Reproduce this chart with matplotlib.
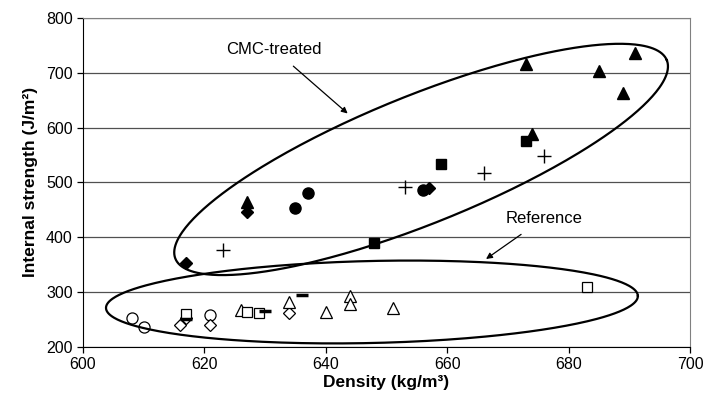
import numpy as np
import matplotlib
matplotlib.use("Agg")
import matplotlib.pyplot as plt

plt.rcParams['font.family'] = ['Liberation Sans', 'DejaVu Sans']

# CMC-treated boards (filled markers)
cmc_diamond_x = [617, 627, 657]
cmc_diamond_y = [353, 446, 489]
cmc_triangle_x = [627, 673, 674, 685, 689, 691]
cmc_triangle_y = [465, 716, 589, 704, 663, 736]
cmc_circle_x = [635, 637, 656]
cmc_circle_y = [454, 480, 486]
cmc_square_x = [648, 659, 673]
cmc_square_y = [390, 534, 576]
cmc_plus_x = [623, 653, 666, 676]
cmc_plus_y = [376, 492, 518, 548]

# reference boards (open markers)
ref_circle_x = [608, 610, 621]
ref_circle_y = [252, 236, 258]
ref_diamond_x = [616, 617, 621, 634]
ref_diamond_y = [240, 252, 239, 262]
ref_triangle_x = [626, 634, 640, 644, 644, 651]
ref_triangle_y = [266, 282, 264, 292, 277, 271]
ref_square_x = [617, 627, 629, 683]
ref_square_y = [259, 264, 262, 308]
ref_dash_x = [617, 630, 636]
ref_dash_y = [251, 265, 295]

# ellipses: centre (data), semi axes (px), angle (deg)
ell_cmc = (655.7, 542, 265, 64, 22)
ell_ref = (647.6, 281.4, 266, 41, 1.3)

fig = plt.figure(figsize=(7.06, 4.08), dpi=100)
ax = fig.add_axes([0.1176, 0.1507, 0.9773 - 0.1176, 0.9551 - 0.1507])

ax.set_xlim(600, 700)
ax.set_ylim(200, 800)
ax.set_xticks(np.arange(600, 701, 20))
ax.set_yticks(np.arange(200, 801, 100))
ax.yaxis.grid(True, color='#505050', lw=0.9)
ax.set_axisbelow(True)

for s in ['top', 'right']:
    ax.spines[s].set_color('#808080')
for s in ['left', 'bottom']:
    ax.spines[s].set_color('black')
ax.tick_params(direction='out', length=4, width=0.9, labelsize=11.5, colors='black')

k = dict(ls='none', color='black', zorder=3)
ax.plot(cmc_diamond_x, cmc_diamond_y, marker='D', ms=6.5, **k)
ax.plot(cmc_triangle_x, cmc_triangle_y, marker='^', ms=8.5, **k)
ax.plot(cmc_circle_x, cmc_circle_y, marker='o', ms=8, **k)
ax.plot(cmc_square_x, cmc_square_y, marker='s', ms=7.5, **k)
ax.plot(cmc_plus_x, cmc_plus_y, marker='+', ms=9.5, mew=1, **k)

o = dict(ls='none', mfc='white', mec='black', mew=0.9, zorder=3)
ax.plot(ref_circle_x, ref_circle_y, marker='o', ms=8, **o)
ax.plot(ref_diamond_x, ref_diamond_y, marker='D', ms=6.5, **o)
ax.plot(ref_triangle_x, ref_triangle_y, marker='^', ms=9, **o)
ax.plot(ref_square_x, ref_square_y, marker='s', ms=7.5, **o)
ax.plot(ref_dash_x, ref_dash_y, ls='none', marker='_', ms=8.5, mew=2.5, color='black', zorder=3)

# px per data unit
sx = ax.bbox.width / 100.0
sy = ax.bbox.height / 600.0
t = np.linspace(0, 2 * np.pi, 400)
for cx, cy, a, b, ang in [ell_cmc, ell_ref]:
    th = np.deg2rad(ang)
    u = a * np.cos(t)
    v = b * np.sin(t)
    px = u * np.cos(th) - v * np.sin(th)
    py = u * np.sin(th) + v * np.cos(th)
    ax.plot(cx + px / sx, cy + py / sy, color='black', lw=1.6, zorder=4, clip_on=False)

ax.annotate('CMC-treated', xy=(643.6, 626), xytext=(631.5, 743), fontsize=12,
            ha='center', va='center',
            arrowprops=dict(arrowstyle='-|>', color='black', lw=0.9, shrinkA=7, shrinkB=0,
                            mutation_scale=9))
ax.annotate('Reference', xy=(666.4, 360), xytext=(675.9, 434), fontsize=12,
            ha='center', va='center',
            arrowprops=dict(arrowstyle='-|>', color='black', lw=0.9, shrinkA=7, shrinkB=0,
                            mutation_scale=9))

ax.set_xlabel('Density (kg/m³)', fontsize=12.5, fontweight='bold', labelpad=2)
ax.set_ylabel('Internal strength (J/m²)', fontsize=12.5, fontweight='bold', labelpad=6)

fig.savefig('out.png', dpi=100)
